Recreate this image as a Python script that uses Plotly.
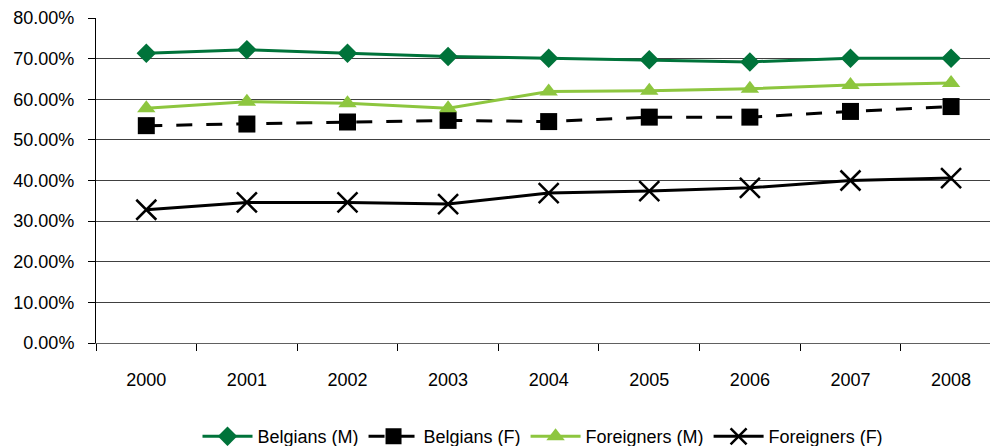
import plotly.graph_objects as go

years = ["2000", "2001", "2002", "2003", "2004", "2005", "2006", "2007", "2008"]
belgians_m = [71.3, 72.2, 71.3, 70.5, 70.1, 69.7, 69.2, 70.1, 70.1]
belgians_f = [53.5, 53.9, 54.4, 54.8, 54.5, 55.6, 55.6, 57.0, 58.2]
foreigners_m = [57.8, 59.4, 59.0, 57.8, 61.9, 62.1, 62.6, 63.5, 64.0]
foreigners_f = [32.8, 34.6, 34.6, 34.2, 36.9, 37.4, 38.2, 40.0, 40.6]

y_ticks = [0, 10, 20, 30, 40, 50, 60, 70, 80]
y_labels = [f"{v:.2f}%" for v in y_ticks]

DARK_GREEN = "#00733A"
LIGHT_GREEN = "#8DC63F"
BLACK = "#000000"

fig = go.Figure()
fig.add_trace(go.Scatter(
    x=years, y=belgians_m, name="Belgians (M)", mode="lines+markers",
    line=dict(color=DARK_GREEN, width=3),
    marker=dict(symbol="diamond", size=15, color=DARK_GREEN),
))
fig.add_trace(go.Scatter(
    x=years, y=belgians_f, name="Belgians (F)", mode="lines+markers",
    line=dict(color=BLACK, width=3, dash="16px,14px"),
    marker=dict(symbol="square", size=17, color=BLACK),
))
fig.add_trace(go.Scatter(
    x=years, y=foreigners_m, name="Foreigners (M)", mode="lines+markers",
    line=dict(color=LIGHT_GREEN, width=3),
    marker=dict(symbol="triangle-up", size=16, color=LIGHT_GREEN),
))
fig.add_trace(go.Scatter(
    x=years, y=foreigners_f, name="Foreigners (F)", mode="lines+markers",
    line=dict(color=BLACK, width=3),
    marker=dict(symbol="x-thin", size=20, color=BLACK,
                line=dict(color=BLACK, width=2.5)),
))

fig.update_layout(
    width=990, height=446,
    margin=dict(l=96, r=0, t=18, b=103, autoexpand=False),
    paper_bgcolor="white", plot_bgcolor="white",
    font=dict(family="Liberation Sans, Arial, sans-serif", size=18, color="#000000"),
    showlegend=True,
    legend=dict(orientation="h", x=0.5, xanchor="center", y=-0.288, yanchor="middle",
                font=dict(size=18), itemwidth=50, tracegroupgap=0),
)
fig.update_xaxes(
    type="category", range=[-0.5, 8.387],
    showgrid=False, showline=True, linecolor="#606060", linewidth=1,
    ticks="outside", tickson="boundaries", ticklen=7, tickcolor="#000000",
    ticklabelstandoff=20, zeroline=False,
)
fig.update_yaxes(
    range=[0, 80], tickvals=y_ticks, ticktext=y_labels,
    showgrid=True, gridcolor="#404040", gridwidth=1,
    showline=True, linecolor="#000000", linewidth=1,
    ticks="outside", ticklen=7, tickcolor="#000000",
    ticklabelstandoff=10, zeroline=False,
)

fig.write_html("out.html")
